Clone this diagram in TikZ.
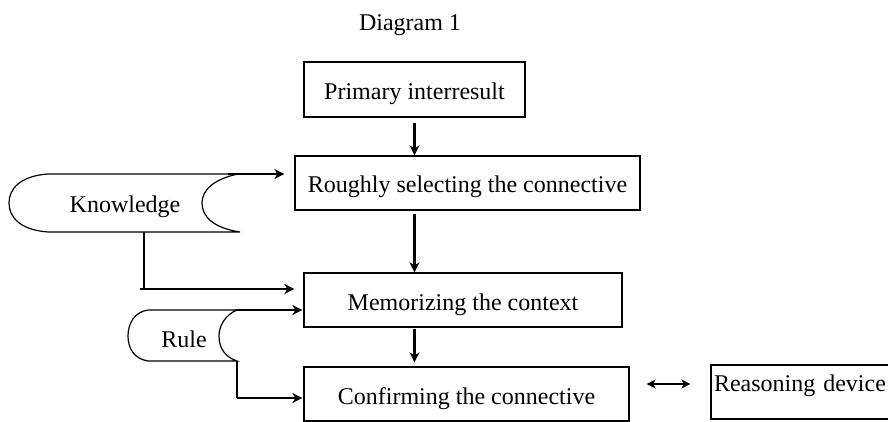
\documentclass[tikz,border=0pt]{standalone}
\usepackage{fontspec}
\setmainfont{Liberation Serif}
\usetikzlibrary{arrows.meta}
\tikzset{
  txt/.style={font=\fontsize{24pt}{28pt}\selectfont, inner sep=0pt},
  box/.style={txt, draw, line width=1.2pt, text height=20pt, text depth=0pt, minimum height=54pt},
  thin/.style={line width=1.2pt},
  flow/.style={line width=2.8pt, -{Stealth[length=10pt,width=10pt,inset=3pt]}},
  dbl/.style={line width=2pt, {Stealth[length=9pt,width=9pt,inset=2.5pt]}-{Stealth[length=9pt,width=9pt,inset=2.5pt]}}
}
\begin{document}
\begin{tikzpicture}[x=1pt,y=-1pt]
\clip (0,0) rectangle (888,422);
\fill[white] (0,0) rectangle (888,422);

\node[txt, anchor=base] (title) at (410,31) {Diagram 1};

\node[box, minimum width=221pt, minimum height=55pt] (prim) at (414.5,89.5) {Primary interresult};
\node[box, minimum width=345pt] (rough) at (467.5,183) {Roughly selecting the connective};
\node[box, minimum width=318pt] (mem) at (463,300) {Memorizing the context};
\node[box, minimum width=325pt] (conf) at (466.5,394) {Confirming the connective};
\node[box, minimum width=184pt, text width=178pt, align=left, text height=10pt, text depth=12pt] (reason) at (803,392) {Reasoning device};

% Knowledge store
\draw[thin] (48,174) -- (238,174) .. controls (214,179) and (202,190) .. (202,203)
  .. controls (202,217) and (214,228) .. (240,232) -- (48,232)
  .. controls (20,230) and (9,217) .. (9,203)
  .. controls (9,189) and (20,176) .. (48,174) -- cycle;
\node[txt, anchor=base] (know) at (125,212) {Knowledge};
\coordinate (kout) at (228,174);
\coordinate (kdown) at (144,232);
\coordinate (kcorner) at (144,289);
\coordinate (kstart) at (140,289);

% Rule store
\draw[thin] (148,310) -- (237,310) .. controls (225,315) and (219,326) .. (219,336)
  .. controls (219,348) and (225,357) .. (237,361) -- (148,361)
  .. controls (134,359) and (128,348) .. (128,336)
  .. controls (128,324) and (134,312) .. (148,310) -- cycle;
\node[txt, anchor=base] (rule) at (184,347) {Rule};
\coordinate (rout) at (236,310);
\coordinate (rdown) at (237,361);
\coordinate (rcorner) at (237,398);

% vertical flow
\draw[flow, shorten <=5pt] (prim.south) -- (prim.south |- rough.north);
\draw[flow, shorten <=3pt] (prim.south |- rough.south) -- (prim.south |- mem.north);
\draw[flow, shorten <=1pt, shorten >=4pt] (prim.south |- mem.south) -- (prim.south |- conf.north);

% side inputs
\draw[flow, shorten >=10pt] (kout) -- (kout -| rough.west);
\draw[thin] (kdown) -- (kcorner);
\draw[flow, shorten >=9pt] (kstart) -- (kstart -| mem.west);
\draw[flow, shorten >=1pt] (rout) -- (rout -| mem.west);
\draw[thin] (rdown) -- (rcorner);
\draw[flow, shorten >=1pt] (rcorner) -- (rcorner -| conf.west);

% reasoning device link
\draw[dbl, shorten <=17pt, shorten >=20pt] ([yshift=10pt]conf.east) -- ([yshift=10pt]conf.east -| reason.west);
\end{tikzpicture}
\end{document}
